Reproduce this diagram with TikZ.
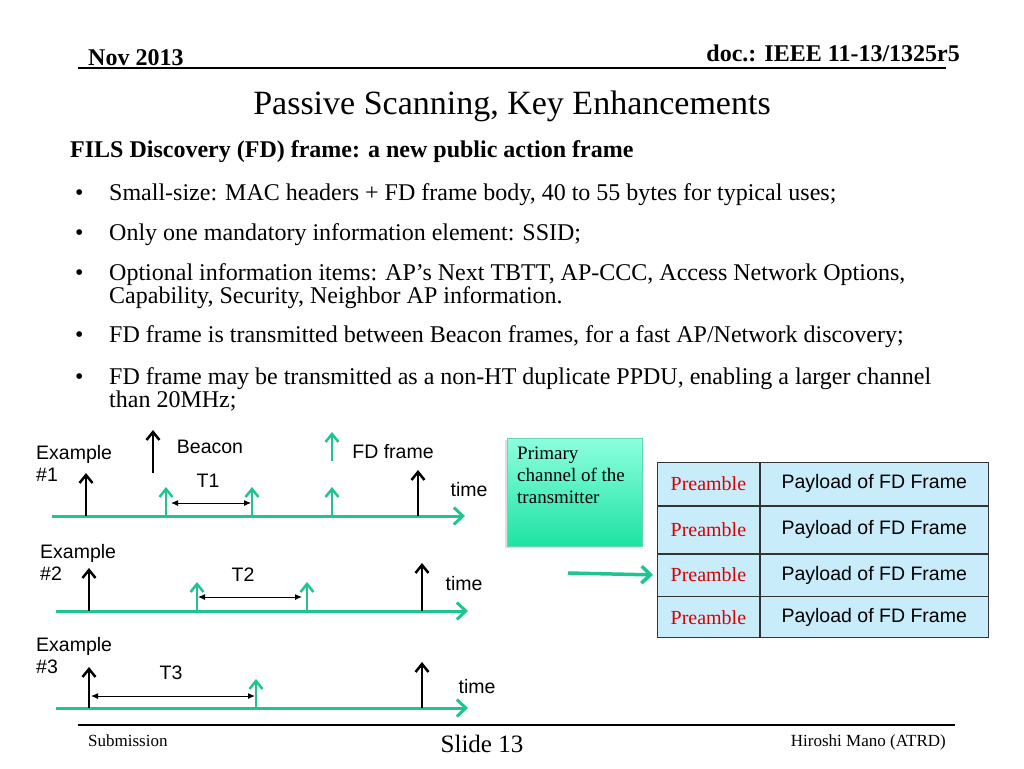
\documentclass[tikz,border=0pt]{standalone}
\usepackage{fontspec}
\setmainfont{Liberation Serif}
\newfontfamily\arialfont{Liberation Sans}
\usepackage{xcolor}
\usepackage{tikz}
\usetikzlibrary{arrows.meta,positioning,calc,shadows}

\definecolor{fdgreen}{RGB}{32,196,146}
\definecolor{cellblue}{RGB}{200,236,250}
\definecolor{boxtop}{RGB}{140,255,222}
\definecolor{boxbot}{RGB}{30,226,162}

\tikzset{
  body/.style={inner sep=0pt, font=\fontsize{24}{28}\selectfont},
  hdr/.style={inner sep=0pt, font=\bfseries\fontsize{24}{28}\selectfont},
  foot/.style={inner sep=0pt, font=\fontsize{17}{20}\selectfont},
  lbl/.style={inner sep=0pt, font=\arialfont\fontsize{19.5}{22}\selectfont},
  taxis/.style={fdgreen, line width=3pt, -{Straight Barb[length=9pt,width=17pt]}},
  beacon/.style={line width=2.5pt, -{Straight Barb[length=8pt,width=13pt]}},
  fdtick/.style={fdgreen, line width=2.5pt, -{Straight Barb[length=8pt,width=13pt]}},
  span/.style={line width=1pt, {Latex[length=7pt,width=6pt]}-{Latex[length=7pt,width=6pt]}},
  precell/.style={draw=black!80, line width=0.8pt, fill=cellblue, inner sep=0pt,
    minimum width=102pt, font=\fontsize{20}{22}\selectfont, text=red!85!black},
  paycell/.style={draw=black!80, line width=0.8pt, fill=cellblue, inner sep=0pt,
    minimum width=228pt, font=\arialfont\fontsize{19.5}{22}\selectfont}
}

\begin{document}
\begin{tikzpicture}[x=1pt,y=-1pt]
\useasboundingbox[fill=white] (0,0) rectangle (1024,768);

% header
\node[hdr, anchor=base west] (date) at (88,65) {Nov 2013};
\node[hdr, anchor=base east] (doc) at (960,61) {doc.: IEEE 11-13/1325r5};
\draw[line width=1.5pt] (78,68) -- (946,68);
\node[inner sep=0pt, anchor=base, font=\fontsize{34}{38}\selectfont] (title) at (512,114) {Passive Scanning, Key Enhancements};
\node[hdr, anchor=base west] (head) at (70,157) {FILS Discovery (FD) frame: a new public action frame};

% bullets
\node[body, anchor=base west] (d1) at (75,200) {\textbullet};
\node[body, anchor=base west] (b1) at (109,200) {Small-size: MAC headers + FD frame body, 40 to 55 bytes for typical uses;};
\node[body, anchor=base west] (d2) at (75,240) {\textbullet};
\node[body, anchor=base west] (b2) at (109,240) {Only one mandatory information element: SSID;};
\node[body, anchor=base west] (d3) at (75,280) {\textbullet};
\node[body, anchor=base west] (b3) at (109,280) {Optional information items: AP’s Next TBTT, AP-CCC, Access Network Options,};
\node[body, anchor=base west] (b3b) at (109,303) {Capability, Security, Neighbor AP information.};
\node[body, anchor=base west] (d4) at (75,342) {\textbullet};
\node[body, anchor=base west] (b4) at (109,342) {FD frame is transmitted between Beacon frames, for a fast AP/Network discovery;};
\node[body, anchor=base west] (d5) at (75,384) {\textbullet};
\node[body, anchor=base west] (b5) at (109,384) {FD frame may be transmitted as a non-HT duplicate PPDU, enabling a larger channel};
\node[body, anchor=base west] (b5b) at (109,407) {than 20MHz;};

% legend
\draw[beacon] (153,473) -- (153,430);
\node[lbl] (bcn) at (210,447) {Beacon};
\draw[fdtick] (332,461) -- (332,432);
\node[lbl] (fdf) at (393,452) {FD frame};

% example 1
\node[lbl, anchor=west, align=left] (ex1) at (36,463) {Example\\\#1};
\draw[taxis] (52,516) -- (465,516);
\draw[beacon] (86,516) -- (86,473);
\draw[beacon] (418,516) -- (418,470);
\draw[fdtick] (166,516) -- (166,487);
\draw[fdtick] (252,516) -- (252,487);
\draw[fdtick] (332,516) -- (332,487);
\draw[span] (171,503) -- (251,503);
\node[lbl] (t1) at (208,481) {T1};
\node[lbl] (time1) at (469,490) {time};

% example 2
\node[lbl, anchor=west, align=left] (ex2) at (40,562) {Example\\\#2};
\draw[taxis] (56,611) -- (468,611);
\draw[beacon] (89,611) -- (89,568);
\draw[beacon] (422,611) -- (422,563);
\draw[fdtick] (197,611) -- (197,582);
\draw[fdtick] (307,611) -- (307,582);
\draw[span] (198,597) -- (302,597);
\node[lbl] (t2) at (243,575) {T2};
\node[lbl] (time2) at (464,584) {time};

% example 3
\node[lbl, anchor=west, align=left] (ex3) at (36,656) {Example\\\#3};
\draw[taxis] (56,708) -- (468,708);
\draw[beacon] (89,708) -- (89,667);
\draw[beacon] (422,708) -- (422,662);
\draw[fdtick] (256,708) -- (256,679);
\draw[span] (91,696) -- (255,696);
\node[lbl] (t3) at (171,673) {T3};
\node[lbl] (time3) at (477,687) {time};

% primary channel box
\node[draw=fdgreen!70, line width=0.6pt, top color=boxtop, bottom color=boxbot,
  drop shadow={shadow xshift=-2pt, shadow yshift=-2pt, opacity=0.25},
  minimum width=135pt, minimum height=108pt, anchor=north west] (pbox) at (507,438) {};
\node[inner sep=0pt, anchor=north west, align=left, font=\fontsize{19}{22}\selectfont]
  (ptext) at ([xshift=10pt,yshift=-9pt]pbox.north west) {Primary\\channel of the\\transmitter};

% FD PPDU table
\node[precell, minimum height=43pt, anchor=north west] (pre1) at (657,462) {Preamble};
\node[paycell, minimum height=43pt, anchor=west] (pay1) at (pre1.east) {Payload of FD Frame};
\node[precell, minimum height=47pt, anchor=north] (pre2) at (pre1.south) {Preamble};
\node[paycell, minimum height=47pt, anchor=west] (pay2) at (pre2.east) {Payload of FD Frame};
\node[precell, minimum height=42pt, anchor=north] (pre3) at (pre2.south) {Preamble};
\node[paycell, minimum height=42pt, anchor=west] (pay3) at (pre3.east) {Payload of FD Frame};
\node[precell, minimum height=41pt, anchor=north] (pre4) at (pre3.south) {Preamble};
\node[paycell, minimum height=41pt, anchor=west] (pay4) at (pre4.east) {Payload of FD Frame};

\coordinate (pin) at (568,573);
\draw[fdgreen, line width=3.5pt, -{Straight Barb[length=9pt,width=17pt]}, shorten >=4pt] (pin) -- (pre3.west);

% footer
\draw[line width=1.5pt] (78,725) -- (955,725);
\node[foot, anchor=base west] (sub) at (88,746) {Submission};
\node[inner sep=0pt, anchor=base, font=\fontsize{25}{28}\selectfont] (slide) at (482,752) {Slide 13};
\node[foot, anchor=base east] (auth) at (946,746) {Hiroshi Mano (ATRD)};
\end{tikzpicture}
\end{document}
